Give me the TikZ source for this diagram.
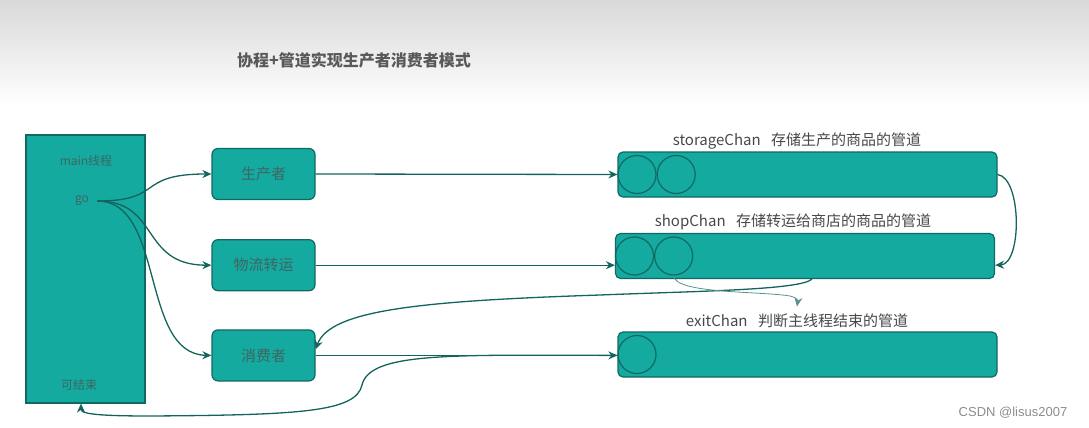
\documentclass[tikz,border=0pt]{standalone}
\usepackage{fontspec}
\setmainfont{Noto Sans CJK SC}
\newfontfamily\csdnfont{Liberation Sans}
\usetikzlibrary{positioning,arrows.meta}
\definecolor{chanfill}{RGB}{20,170,160}
\definecolor{chanedge}{RGB}{16,105,98}
\definecolor{flowline}{RGB}{18,100,92}
\definecolor{boxtext}{RGB}{62,102,98}
\definecolor{labeltext}{RGB}{72,72,72}

\begin{document}
\begin{tikzpicture}[x=1pt,y=-1pt,
    worker/.style={draw=chanedge,fill=chanfill,rounded corners=6pt,line width=1.2pt,minimum width=103pt,minimum height=51pt,text=boxtext,font=\fontsize{15}{15}\selectfont},
    pipe/.style={draw=chanedge,fill=chanfill,rounded corners=5pt,line width=1.2pt,minimum width=379pt,minimum height=45pt},
    slot/.style={draw=chanedge,line width=1.2pt,circle,minimum size=38pt,inner sep=0pt},
    flow/.style={draw=flowline,line width=1.3pt,-{Stealth[length=9pt,width=8pt]}},
    pipelabel/.style={text=labeltext,font=\fontsize{15}{15}\selectfont},
    mainlabel/.style={text=boxtext,font=\fontsize{12}{12}\selectfont}]

    % Background
    \useasboundingbox (0,0) rectangle (1089,428);
    \shade[top color=black!15,bottom color=white] (0,0) rectangle (1089,105);
    \node[font=\bfseries\fontsize{16}{16}\selectfont,text=black!65] (title) at (354,60) {协程+管道实现生产者消费者模式};

    % Main thread
    \node[draw=chanedge,fill=chanfill,line width=1.2pt,minimum width=119pt,minimum height=268pt] (main) at (85.5,269) {};
    \node[mainlabel] (mainname) at (86,161) {main线程};
    \node[mainlabel] (go) at (82,201) {go};
    \node[mainlabel] (done) at (79,385) {可结束};

    % Goroutines
    \node[worker] (producer) at (263.5,174) {生产者};
    \node[worker,below=39pt of producer] (transport) {物流转运};
    \node[worker,below=38pt of transport] (consumer) {消费者};

    % Channels
    \node[pipe] (storage) at (807.5,174.5) {};
    \node[slot,anchor=west] (storage1) at (storage.west) {};
    \node[slot,right=0pt of storage1] (storage2) {};
    \node[pipelabel] (storagelbl) at (797,141) {storageChan\hspace{0.7em}存储生产的商品的管道};

    \node[pipe] (shop) at (805,256) {};
    \node[slot,anchor=west] (shop1) at (shop.west) {};
    \node[slot,right=0pt of shop1] (shop2) {};
    \node[pipelabel] (shoplbl) at (793,222) {shopChan\hspace{0.7em}存储转运给商店的商品的管道};

    \node[pipe] (exit) at (807.5,354.5) {};
    \node[slot,anchor=west] (exit1) at (exit.west) {};
    \node[pipelabel] (exitlbl) at (797,321) {exitChan\hspace{0.7em}判断主线程结束的管道};

    % go -> goroutines
    \draw[flow] ([xshift=5pt]go.east) .. controls (165,201) and (135,174) .. (producer.west);
    \draw[flow] ([xshift=5pt]go.east) .. controls (160,201) and (140,265) .. (transport.west);
    \draw[flow] ([xshift=5pt]go.east) .. controls (165,201) and (140,354) .. (consumer.west);

    % goroutines -> channels
    \draw[flow] (producer.east) -- (storage.west);
    \draw[flow] (transport.east) -- (transport.east -| shop.west);
    \draw[flow] (consumer.east) -- (consumer.east -| exit.west);

    % between channels
    \draw[flow] (storage.east) .. controls (1022,178) and (1022,264) .. (shop.east |- transport.east);
    \draw[flow] ([xshift=7pt]shop.south) .. controls (800,290) and (700,291) .. (600,295)
        .. controls (420,301) and (330,310) .. ([yshift=6pt]consumer.east);
    \draw[flow,draw=flowline!70,line width=0.8pt] (shop2.south) .. controls (674,294) and (760,291) .. (790,296)
        .. controls (797,298) and (798,300) .. ([yshift=4pt]exitlbl.north);

    % exit -> main
    \draw[flow] (consumer.east -| exit.west) .. controls (450,355) and (370,352) .. (362,385)
        .. controls (356,412) and (300,415) .. (150,416)
        .. controls (90,416) and (81,413) .. ([xshift=-4.5pt]main.south);

    \node[font=\csdnfont\fontsize{13}{13}\selectfont,text=black!45] (csdn) at (1013,413) {CSDN @lisus2007};
\end{tikzpicture}
\end{document}
